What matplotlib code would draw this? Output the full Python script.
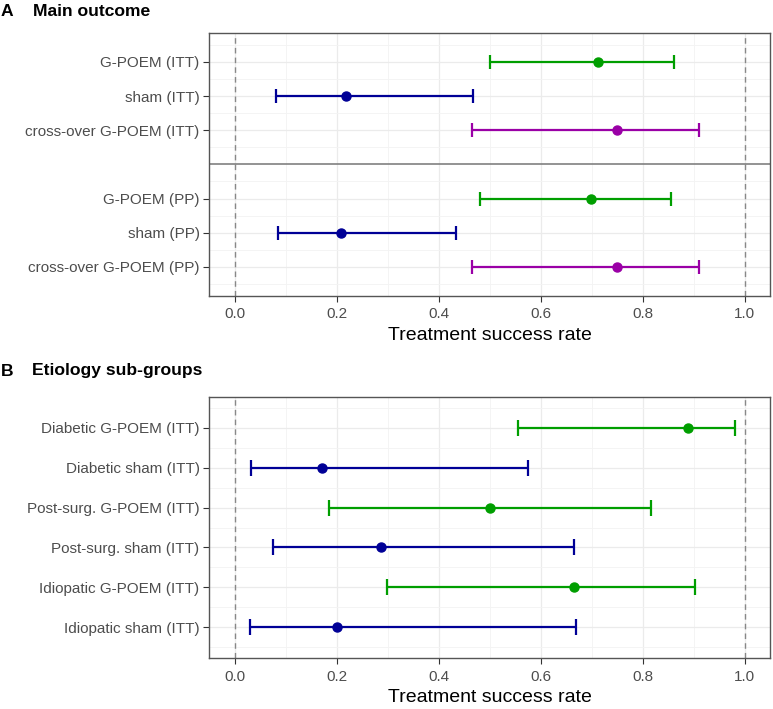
import numpy as np
import matplotlib
matplotlib.use('Agg')
import matplotlib.pyplot as plt
from matplotlib.ticker import MultipleLocator

plt.rcParams['font.family'] = ['Liberation Sans', 'DejaVu Sans']

# Panel A: main outcome (ITT block, then PP block)
labels_a = ['G-POEM (ITT)', 'sham (ITT)', 'cross-over G-POEM (ITT)',
            'G-POEM (PP)', 'sham (PP)', 'cross-over G-POEM (PP)']
est_a = [0.712, 0.219, 0.75, 0.698, 0.209, 0.75]
low_a = [0.500, 0.081, 0.466, 0.481, 0.084, 0.466]
high_a = [0.862, 0.467, 0.911, 0.855, 0.434, 0.911]
group_a = ['gpoem', 'sham', 'cross', 'gpoem', 'sham', 'cross']

# Panel B: etiology sub-groups
labels_b = ['Diabetic G-POEM (ITT)', 'Diabetic sham (ITT)',
            'Post-surg. G-POEM (ITT)', 'Post-surg. sham (ITT)',
            'Idiopatic G-POEM (ITT)', 'Idiopatic sham (ITT)']
est_b = [0.889, 0.172, 0.500, 0.286, 0.665, 0.200]
low_b = [0.556, 0.031, 0.184, 0.074, 0.299, 0.030]
high_b = [0.981, 0.575, 0.816, 0.666, 0.903, 0.670]
group_b = ['gpoem', 'sham', 'gpoem', 'sham', 'gpoem', 'sham']

colors = {'gpoem': '#009E00', 'sham': '#000096', 'cross': '#9A00A6'}

W, H = 773, 709
fig = plt.figure(figsize=(W / 100, H / 100), dpi=100)


def px_axes(left, top, right, bottom):
    return fig.add_axes([left / W, 1 - bottom / H,
                         (right - left) / W, (bottom - top) / H])


def draw_panel(ax, ypos, labels, est, low, high, groups, ylim, capsize):
    ax.set_xlim(-0.05, 1.05)
    ax.set_ylim(*ylim)
    ax.xaxis.set_major_locator(MultipleLocator(0.2))
    ax.xaxis.set_minor_locator(MultipleLocator(0.1))
    ax.set_yticks(ypos)
    ax.set_yticklabels(labels)
    ax.set_yticks(np.arange(0.5, max(ypos) + 1, 1.0), minor=True)
    ax.grid(which='major', color='#EBEBEB', lw=0.9, zorder=0)
    ax.grid(which='minor', color='#F3F3F3', lw=0.6, zorder=0)
    ax.set_axisbelow(True)
    ax.tick_params(which='minor', length=0)
    ax.tick_params(which='major', length=4, width=0.8, color='#333333',
                   labelcolor='#4D4D4D', labelsize=11, pad=3)
    ax.tick_params(axis='x', pad=4.5)
    for s in ax.spines.values():
        s.set_color('#555555')
        s.set_linewidth(1.0)

    # reference lines at 0 and 1
    for v in (0.0, 1.0):
        ax.axvline(v, color='#888888', ls=(0, (4, 3)), lw=1.0, zorder=1)

    for y, e, lo, hi, g in zip(ypos, est, low, high, groups):
        c = colors[g]
        ax.errorbar([e], [y], xerr=[[e - lo], [hi - e]], fmt='o', color=c,
                    ms=6.5, lw=1.6, capsize=capsize, capthick=1.6, zorder=3)

    ax.set_xlabel('Treatment success rate', fontsize=14, labelpad=4)


# Panel A
axA = px_axes(209.3, 33.3, 770, 295.5)
ypos_a = [1, 2, 3, 5, 6, 7]
draw_panel(axA, ypos_a, labels_a, est_a, low_a, high_a, group_a,
           (7.84, 0.16), 4.8)
axA.axhline(4, color='#808080', lw=1.2, zorder=2)

# Panel B
axB = px_axes(209.3, 396.7, 770, 658)
ypos_b = [1, 2, 3, 4, 5, 6]
draw_panel(axB, ypos_b, labels_b, est_b, low_b, high_b, group_b,
           (6.77, 0.22), 5.8)

# panel titles
fig.text(1 / W, 1 - 11 / H, 'A', fontsize=12.6, fontweight='bold', va='center')
fig.text(33 / W, 1 - 11 / H, 'Main outcome', fontsize=12.6, fontweight='bold',
         va='center')
fig.text(1 / W, 1 - 371 / H, 'B', fontsize=12.6, fontweight='bold',
         va='center')
fig.text(32 / W, 1 - 371 / H, 'Etiology sub-groups', fontsize=12.6,
         fontweight='bold', va='center')

fig.savefig('out.png', dpi=100, facecolor='white')
